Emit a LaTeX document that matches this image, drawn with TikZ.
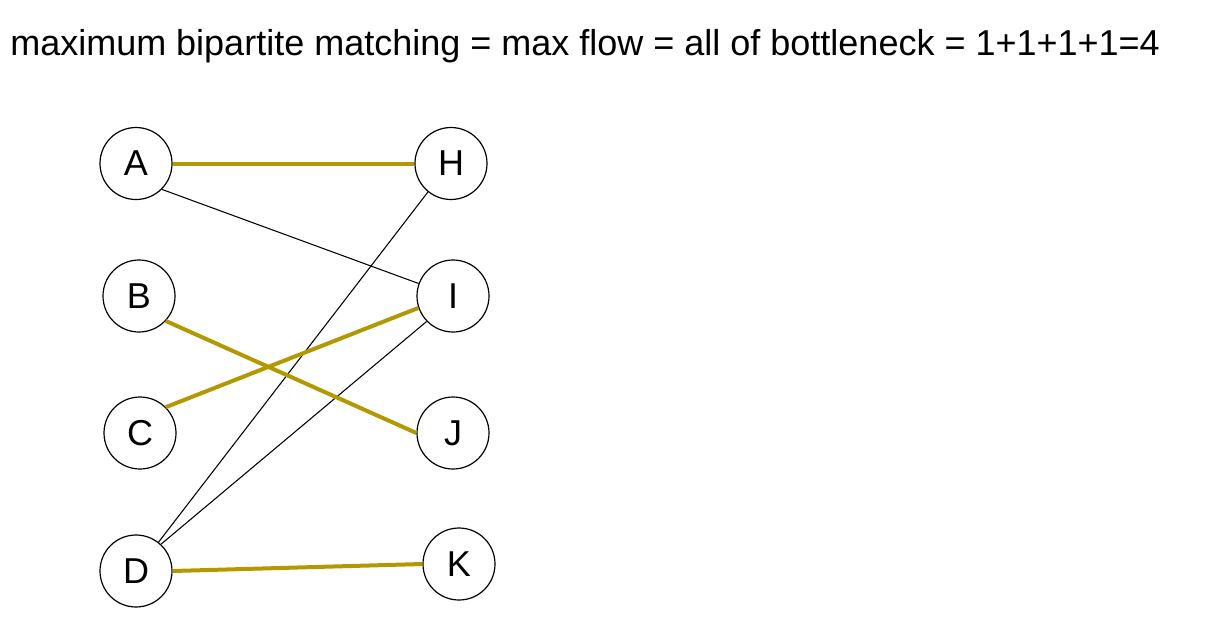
\documentclass[tikz,border=0pt]{standalone}
\usepackage{fontspec}
\setmainfont{Liberation Sans}
\definecolor{matchgold}{RGB}{180,152,0}
\begin{document}
\begin{tikzpicture}[
            x=0.75pt, y=-0.75pt,
            every node/.style={font=\fontsize{27}{32}\selectfont},
            vertex/.style={circle, draw, line width=0.9pt, minimum size=54pt, inner sep=0pt, fill=white},
            matched/.style={draw=matchgold, line width=3pt},
            plain/.style={draw=black, line width=0.8pt}
        ]
        \useasboundingbox (0,0) rectangle (1214,619);

        % Title
        \node[anchor=base west, inner sep=0pt] (title) at (10,55) {maximum bipartite matching = max flow = all of bottleneck = 1+1+1+1=4};

        % Left side
        \node[vertex] (a) at (136,163.5) {A};
        \node[vertex] (b) at (139,296) {B};
        \node[vertex] (c) at (140,433) {C};
        \node[vertex] (d) at (136,571) {D};

        % Right side
        \node[vertex] (h) at (451,163.5) {H};
        \node[vertex] (i) at (453,296) {I};
        \node[vertex] (j) at (453,433) {J};
        \node[vertex] (k) at (459,564) {K};

        % === EDGES ===

        % unmatched edges
        \draw[plain] (a.-45) -- (i.160);
        \draw[plain] (d.52) -- (h.231);
        \draw[plain] (d.47) -- (i.224);

        % matching
        \draw[matched] (a.0) -- (h.180);
        \draw[matched] (b.-43) -- (j.180);
        \draw[matched] (c.45) -- (i.199);
        \draw[matched] (d.0) -- (k.180);

    \end{tikzpicture}
\end{document}
